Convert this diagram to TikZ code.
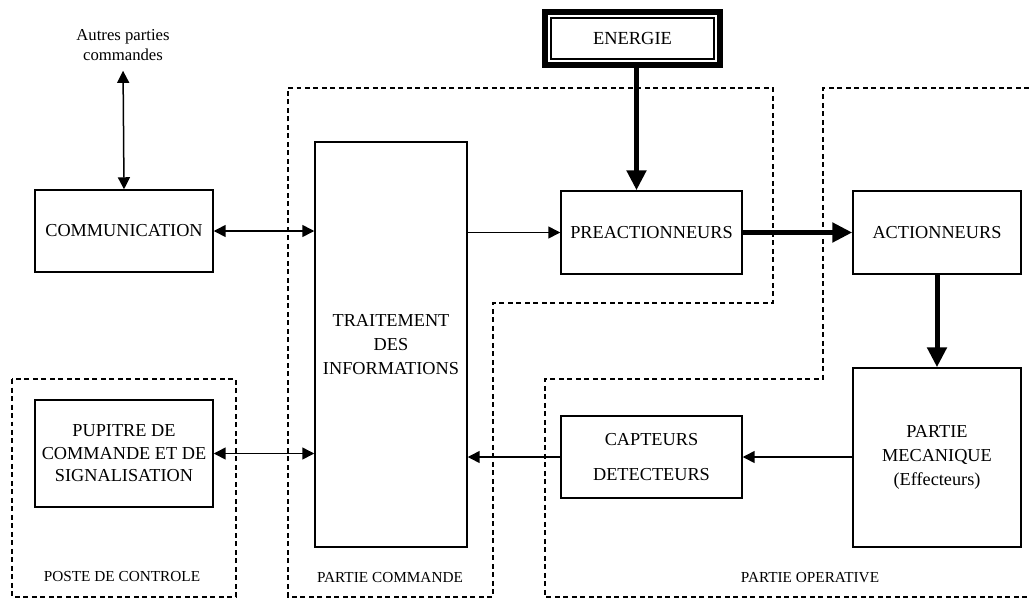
\documentclass[tikz,border=0pt]{standalone}
\usepackage{fontspec}
\setmainfont{Liberation Serif}
\usetikzlibrary{arrows.meta,calc}
\begin{document}
\begin{tikzpicture}[x=0.02cm,y=-0.02cm,
  box/.style={draw,line width=0.03cm,align=center,inner sep=0pt,font=\fontsize{10.4}{13.5}\selectfont},
  zone/.style={draw,line width=0.025cm,dash pattern=on 0.1cm off 0.07cm},
  thinarr/.style={line width=0.03cm,-{Triangle[length=0.24cm,width=0.24cm]}},
  thinboth/.style={line width=0.03cm,{Triangle[length=0.24cm,width=0.24cm]}-{Triangle[length=0.24cm,width=0.24cm]}},
  thickarr/.style={line width=0.1cm,-{Triangle[length=0.4cm,width=0.38cm]}},
  lbl/.style={font=\fontsize{8.7}{10}\selectfont}]
\useasboundingbox (0,0) rectangle (1029,599);
% zones
\draw[zone] (288,88) -- (773,88) -- (773,303) -- (493,303) -- (493,597) -- (288,597) -- cycle;
\draw[zone] (1029,88) -- (823,88) -- (823,379) -- (545,379) -- (545,597) -- (1029,597);
\draw[zone] (12,379) rectangle (236,597);
% nodes
\node[font=\fontsize{9.5}{11.5}\selectfont,align=center,inner sep=1pt] (autres) at (123,45) {Autres parties\\commandes};
\node[box,minimum width=3.56cm,minimum height=1.64cm] (comm) at (124,231) {COMMUNICATION};
\node[box,minimum width=3.04cm,minimum height=8.1cm] (trait) at (391,344.5) {TRAITEMENT\\DES\\INFORMATIONS};
\node[box,minimum width=3.62cm,minimum height=1.66cm] (preact) at (651.5,232.5) {PREACTIONNEURS};
\node[box,minimum width=3.36cm,minimum height=1.66cm] (act) at (937,232.5) {ACTIONNEURS};
\node[box,minimum width=3.36cm,minimum height=3.58cm] (pm) at (937,457.5) {PARTIE\\MECANIQUE\\(Effecteurs)};
\node[box,minimum width=3.62cm,minimum height=1.64cm,font=\fontsize{10.4}{20}\selectfont] (capt) at (651.5,457) {CAPTEURS\\DETECTEURS};
\node[box,minimum width=3.56cm,minimum height=2.14cm,font=\fontsize{10.4}{12.8}\selectfont] (pup) at (124,453.5) {PUPITRE DE\\COMMANDE ET DE\\SIGNALISATION};
\node[box,minimum width=3.26cm,minimum height=0.82cm,font=\fontsize{10.5}{12}\selectfont] (energie) at (632.5,38.5) {ENERGIE};
\draw[line width=0.12cm] ($(energie.south west)+(-5,5)$) rectangle ($(energie.north east)+(5,-5)$);
% labels
\node[lbl] (lpost) at (122,577) {POSTE DE CONTROLE};
\node[lbl] (lcom) at (390,578) {PARTIE COMMANDE};
\node[lbl] (lop) at (810,578) {PARTIE OPERATIVE};
% connectors
\coordinate (etop) at ($(energie.south)+(4,5)$);
\draw[thinboth,shorten <=0.16cm] (autres.south) -- (comm.north);
\draw[thinboth] (comm.east) -- (comm.east -| trait.west);
\draw[thinarr] (trait.east |- preact.west) -- (preact.west);
\draw[thickarr] (etop) -- (etop |- preact.north);
\draw[thickarr] (preact.east) -- (act.west);
\draw[thickarr] (act.south) -- (pm.north);
\draw[thinarr] (pm.west |- capt.east) -- (capt.east);
\draw[thinarr] (capt.west) -- (capt.west -| trait.east);
\draw[thinboth] (pup.east) -- (pup.east -| trait.west);
\end{tikzpicture}
\end{document}
